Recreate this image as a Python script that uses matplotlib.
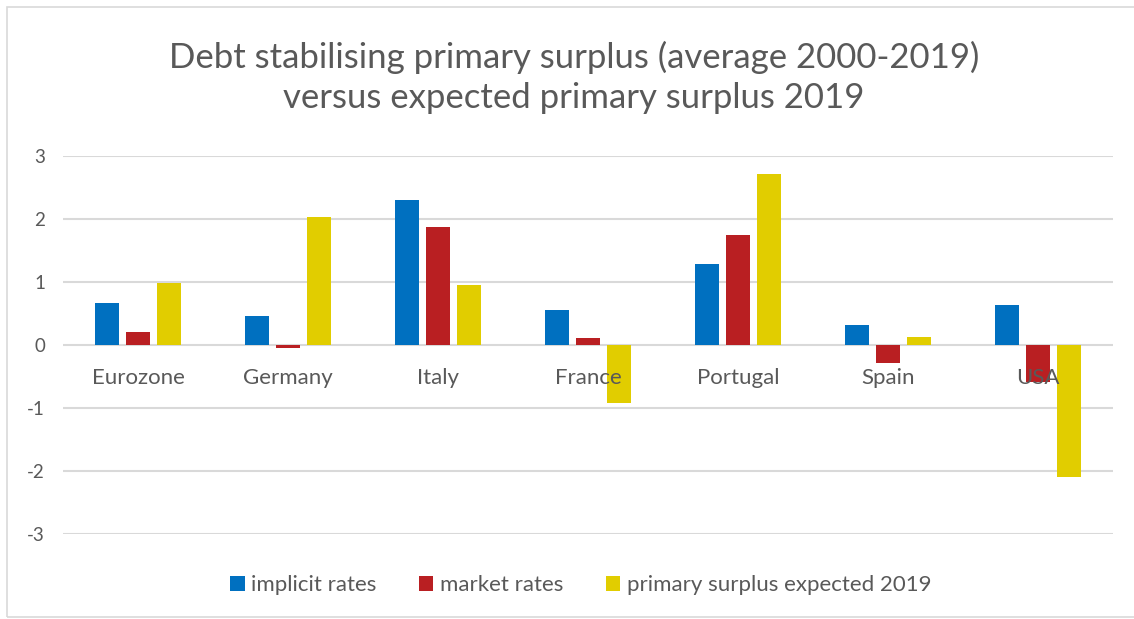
import matplotlib
matplotlib.use("Agg")
import matplotlib.pyplot as plt
from matplotlib.patches import Rectangle
import numpy as np

countries = ["Eurozone", "Germany", "Italy", "France", "Portugal", "Spain", "USA"]
implicit_rates = [0.67, 0.46, 2.30, 0.56, 1.29, 0.32, 0.63]
market_rates = [0.21, -0.04, 1.87, 0.11, 1.74, -0.28, -0.58]
primary_surplus_2019 = [0.98, 2.03, 0.95, -0.92, 2.71, 0.13, -2.09]
series_names = ["implicit rates", "market rates", "primary surplus expected 2019"]
yticks = [3, 2, 1, 0, -1, -2, -3]

colors = ["#0070c0", "#b91f22", "#e1cd00"]
text_color = "#595959"
grid_color = "#d9d9d9"

plt.rcParams["font.family"] = ["Lato", "DejaVu Sans"]

fig = plt.figure(figsize=(11.34, 6.19), dpi=100)
# light border of the chart area
fig.patches.append(Rectangle((7 / 1134, 2 / 619), 1.2, 610 / 619, transform=fig.transFigure,
                             fill=False, edgecolor="#d9d9d9", linewidth=1.2))

ax = fig.add_axes([63 / 1134, 1 - 534 / 619, 1050 / 1134, 378 / 619])

x = np.arange(len(countries))
width = 0.16
step = 0.207
for i, (vals, name) in enumerate(zip([implicit_rates, market_rates, primary_surplus_2019], series_names)):
    ax.bar(x + (i - 1) * step, vals, width, color=colors[i], label=name, zorder=2)

ax.set_xlim(-0.5, len(countries) - 0.5)
ax.set_ylim(-3, 3)
ax.set_yticks(yticks)
ax.set_yticklabels([str(t) for t in yticks])
ax.set_xticks([])
ax.tick_params(axis="y", length=0, pad=13, labelsize=13.5, labelcolor=text_color)
ax.grid(axis="y", color=grid_color, linewidth=1.5, zorder=0)
for spine in ax.spines.values():
    spine.set_visible(False)

# category labels sit just under the zero line, on top of the bars
for xi, name in zip(x, countries):
    ax.text(xi, -0.52, name, ha="center", va="center", fontsize=16,
            color=text_color, zorder=5)

fig.text(0.506, 0.875, "Debt stabilising primary surplus (average 2000-2019)\nversus expected primary surplus 2019",
         ha="center", va="center", fontsize=25, color=text_color, linespacing=1.3)

ax.legend(loc="center", bbox_to_anchor=(0.493, (619 - 585 - (619 - 534)) / 378),
          ncol=3, frameon=False, fontsize=16, labelcolor=text_color,
          handlelength=0.65, handleheight=0.65, handletextpad=0.3, columnspacing=1.9)

fig.savefig("out.png", dpi=100)
